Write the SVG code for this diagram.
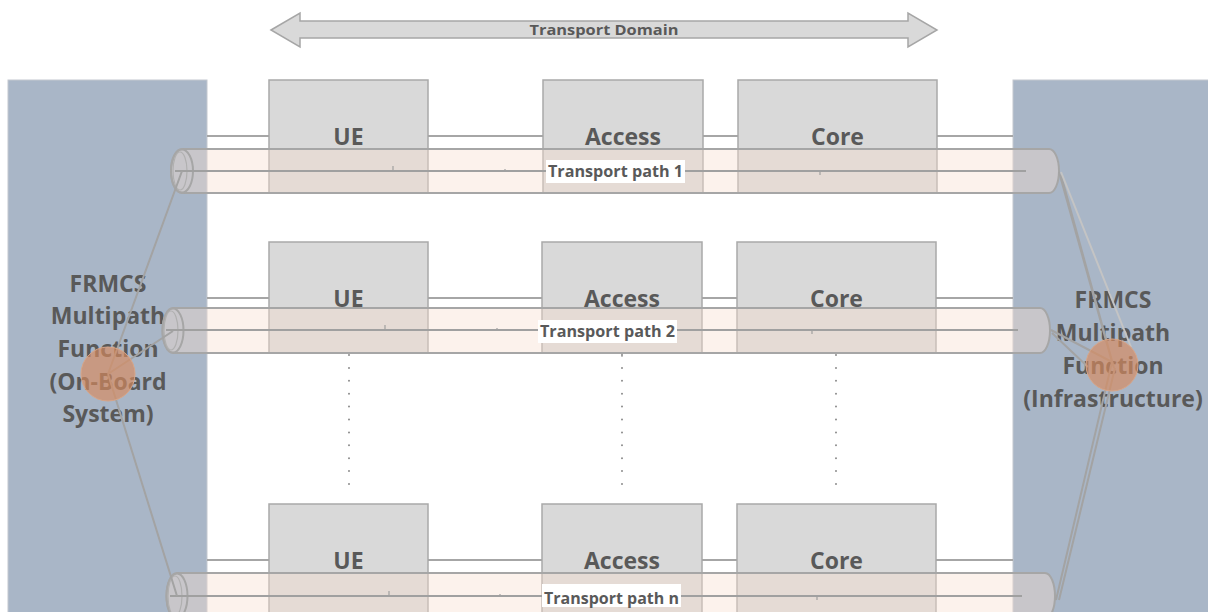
<svg xmlns="http://www.w3.org/2000/svg" width="1208" height="612" viewBox="0 0 1208 612">
  <defs>
    <style>
      .panel { fill: #a9b6c7; stroke: #c3c8cf; stroke-width: 1; }
      .box { fill: #d9d9d9; stroke: #a9a9a9; stroke-width: 1.5; }
      .link { stroke: #a6a6a6; stroke-width: 2; fill: none; }
      .tube { fill: #f8ded0; fill-opacity: 0.4; stroke: #a6a6a6; stroke-width: 2; }
      .axis { stroke: #a0a0a0; stroke-width: 2.2; fill: none; }
      .tick { stroke: #a0a0a0; stroke-width: 1.2; fill: none; }
      .dots { stroke: #8c8c8c; stroke-width: 2; stroke-linecap: round; stroke-dasharray: 0 12.9; fill: none; }
      .wire { stroke: #a3a3a3; stroke-width: 2; fill: none; }
      .wire-light { stroke: #c4c4c4; stroke-width: 2; fill: none; }
      .hub { fill: #d98a5e; fill-opacity: 0.65; stroke: #d7a588; stroke-width: 1; }
      .lbl { font-family: "Open Sans", "Liberation Sans", sans-serif; font-weight: bold; fill: #595959; text-anchor: middle; }
      .big { font-size: 23px; }
      .small { font-size: 15px; }
      .tag { fill: #ffffff; }
    </style>
  </defs>

  <!-- Transport domain double arrow -->
  <g id="transport-domain">
    <path d="M271,30 L300,13 L300,21 L908,21 L908,13 L937,30 L908,47 L908,38 L300,38 L300,47 Z" fill="#d9d9d9" stroke="#a6a6a6" stroke-width="1.5"/>
    <text class="lbl small" x="604" y="35" textLength="149" lengthAdjust="spacingAndGlyphs">Transport Domain</text>
  </g>

  <!-- Multipath function panels -->
  <g id="mpf-onboard">
    <rect class="panel" x="8" y="80" width="199" height="540"/>
    <text class="lbl big" x="108" y="292">FRMCS</text>
    <text class="lbl big" x="108" y="324">Multipath</text>
    <text class="lbl big" x="108" y="357">Function</text>
    <text class="lbl big" x="108" y="390">(On-Board</text>
    <text class="lbl big" x="108" y="422">System)</text>
  </g>
  <g id="mpf-infra">
    <rect class="panel" x="1013" y="80" width="200" height="540"/>
    <text class="lbl big" x="1113" y="308">FRMCS</text>
    <text class="lbl big" x="1113" y="341">Multipath</text>
    <text class="lbl big" x="1113" y="374">Function</text>
    <text class="lbl big" x="1113" y="407">(Infrastructure)</text>
  </g>

  <!-- Path 1 network elements -->
  <g id="ue-1">
    <rect class="box" x="269" y="80" width="159" height="113"/>
    <text class="lbl big" x="348.5" y="145">UE</text>
  </g>
  <g id="access-1">
    <rect class="box" x="543" y="80" width="160" height="113"/>
    <text class="lbl big" x="623" y="145">Access</text>
  </g>
  <g id="core-1">
    <rect class="box" x="738" y="80" width="199" height="113"/>
    <text class="lbl big" x="837.5" y="145">Core</text>
  </g>

  <!-- Path 2 network elements -->
  <g id="ue-2">
    <rect class="box" x="269" y="242" width="159" height="111"/>
    <text class="lbl big" x="348.5" y="307">UE</text>
  </g>
  <g id="access-2">
    <rect class="box" x="542" y="242" width="160" height="111"/>
    <text class="lbl big" x="622" y="307">Access</text>
  </g>
  <g id="core-2">
    <rect class="box" x="737" y="242" width="199" height="111"/>
    <text class="lbl big" x="836.5" y="307">Core</text>
  </g>

  <!-- Path n network elements -->
  <g id="ue-n">
    <rect class="box" x="269" y="504" width="159" height="120"/>
    <text class="lbl big" x="348.5" y="569">UE</text>
  </g>
  <g id="access-n">
    <rect class="box" x="542" y="504" width="160" height="120"/>
    <text class="lbl big" x="622" y="569">Access</text>
  </g>
  <g id="core-n">
    <rect class="box" x="737" y="504" width="199" height="120"/>
    <text class="lbl big" x="836.5" y="569">Core</text>
  </g>

  <!-- Connectors -->
  <g id="connectors">
    <!-- chain links between elements -->
    <path class="link" d="M207,136 H269 M428,136 H543 M703,136 H738 M937,136 H1013"/>
    <path class="link" d="M207,298 H269 M428,298 H542 M702,298 H737 M936,298 H1013"/>
    <path class="link" d="M207,560 H269 M428,560 H542 M702,560 H737 M936,560 H1013"/>

    <!-- elision dots between path 2 and path n -->
    <path class="dots" d="M349,355 V496 M622,355 V496 M836,355 V496"/>

    <!-- transport path 1 tube -->
    <path class="tube" d="M182,149 H1049 A10,22 0 0 1 1049,193 H182 A11,22 0 0 1 182,149 Z"/>
    <ellipse cx="182" cy="171" rx="11" ry="21.5" fill="none" stroke="#a6a6a6" stroke-width="2"/>
    <ellipse cx="180" cy="171" rx="7" ry="19" fill="none" stroke="#b0b0b0" stroke-width="1.2"/>
    <path class="axis" d="M175,171 H1026"/>
    <path class="tick" d="M393,166 V171 M505,169 V171 M820,171 V175"/>

    <!-- transport path 2 tube -->
    <path class="tube" d="M173,308 H1040 A10,22.5 0 0 1 1040,353 H173 A10.5,22.5 0 0 1 173,308 Z"/>
    <ellipse cx="173" cy="330.5" rx="10.5" ry="22" fill="none" stroke="#a6a6a6" stroke-width="2"/>
    <ellipse cx="171" cy="330.5" rx="7" ry="19.5" fill="none" stroke="#b0b0b0" stroke-width="1.2"/>
    <path class="axis" d="M166,330 H1018"/>
    <path class="tick" d="M385,325 V330 M497,328 V330 M812,330 V334 M622,353 V357"/>

    <!-- transport path n tube -->
    <path class="tube" d="M177,573 H1045 A10,23 0 0 1 1045,619 H177 A10.5,23 0 0 1 177,573 Z"/>
    <ellipse cx="177" cy="596" rx="10.5" ry="22.5" fill="none" stroke="#a6a6a6" stroke-width="2"/>
    <ellipse cx="175" cy="596" rx="7" ry="20" fill="none" stroke="#b0b0b0" stroke-width="1.2"/>
    <path class="axis" d="M170,596 H1022"/>
    <path class="tick" d="M389,591 V596 M500,594 V596 M817,596 V600"/>

    <!-- path labels -->
    <rect class="tag" x="546" y="160" width="139" height="23"/>
    <text class="lbl" font-size="15.5" x="615.5" y="177" textLength="135" lengthAdjust="spacingAndGlyphs">Transport path 1</text>
    <rect class="tag" x="538" y="320" width="139" height="23"/>
    <text class="lbl" font-size="15.5" x="607.5" y="337" textLength="135" lengthAdjust="spacingAndGlyphs">Transport path 2</text>
    <rect class="tag" x="542" y="584" width="139" height="23"/>
    <text class="lbl" font-size="15.5" x="611.5" y="604" textLength="135" lengthAdjust="spacingAndGlyphs">Transport path n</text>

    <!-- fan-out from on-board function -->
    <path class="wire" d="M108,374 L182,171 M108,374 L173,331 M108,374 L177,596"/>

    <!-- fan-in to infrastructure function -->
    <path class="wire" d="M1059,172 L1112,362 M1061,175 L1114,368 M1051,330 L1112,362 M1052,333 L1088,367 M1112,362 L1056,600 M1115,368 L1059,600"/>
    <path class="wire-light" d="M1061,172 L1131,347"/>
  </g>

  <!-- Multipath function hubs -->
  <g id="hub-onboard">
    <circle class="hub" cx="108" cy="374" r="27"/>
  </g>
  <g id="hub-infra">
    <circle class="hub" cx="1112" cy="365" r="26"/>
  </g>
</svg>
